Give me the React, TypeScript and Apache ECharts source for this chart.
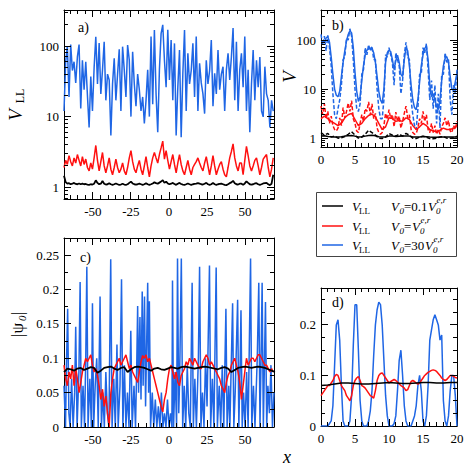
import React, { useEffect, useRef } from 'react';
import * as echarts from 'echarts';

const SERIF = '"Liberation Serif", "Times New Roman", serif';
const BLUE = '#1f66e5';
const RED = '#ff1010';
const BLACK = '#000000';

// ---------- Panel a: V_LL vs x (log y), sampled from x = -69 every 1.1 ----------
const A_X0 = -69;
const A_DX = 1.1;
const aBlue = [
  12, 60, 100, 19, 105, 45, 60, 30, 70, 105,
  13, 63, 24, 60, 20, 7, 37, 12, 50, 135,
  29, 110, 21, 46, 115, 17, 40, 33, 5.4, 29,
  67, 17, 40, 90, 12, 98, 46, 19, 103, 63,
  10, 83, 29, 14, 40, 24, 12, 19, 8, 17,
  46, 10, 136, 15, 169, 21, 6, 46, 150, 200,
  63, 26, 170, 33, 122, 17, 109, 5.4, 26, 88,
  5.1, 41, 169, 12, 79, 29, 45, 109, 19, 136,
  12, 57, 30, 21, 11, 63, 29, 45, 122, 14,
  41, 21, 88, 24, 40, 51, 12, 46, 79, 33,
  70, 180, 17, 115, 12, 46, 79, 26, 136, 12,
  46, 6, 29, 88, 17, 63, 26, 70, 12, 9.9,
  51, 21, 17, 7, 17, 12,
];
const aRed = [
  1.9, 2.4, 2.1, 2.8, 2.3, 2.0, 2.6, 2.2, 2.9, 2.4,
  2.0, 2.7, 2.1, 2.5, 1.9, 1.7, 2.2, 1.8, 2.6, 3.9,
  2.4, 1.7, 2.3, 3.1, 2.0, 1.6, 2.0, 2.6, 1.8, 1.5,
  1.9, 2.5, 1.9, 1.6, 1.8, 2.2, 1.7, 1.5, 1.9, 2.6,
  3.3, 2.3, 1.8, 1.6, 2.0, 2.4, 1.8, 1.5, 2.0, 2.7,
  1.9, 1.4, 2.0, 2.6, 3.1, 2.6, 2.2, 2.9, 3.6, 4.5,
  2.5, 3.3, 2.4, 1.8, 2.3, 2.9, 2.1, 1.6, 2.2, 2.9,
  2.1, 1.7, 1.5, 1.9, 2.4, 1.8, 1.5, 1.9, 2.1, 2.3,
  2.6, 2.2, 1.9, 1.7, 2.2, 2.7, 2.0, 1.5, 2.0, 2.8,
  2.0, 1.5, 1.8, 2.1, 2.3, 1.8, 1.5, 1.4, 1.9, 2.6,
  3.2, 4.1, 2.6, 2.0, 1.7, 2.2, 2.2, 1.5, 2.4, 3.8,
  2.8, 2.0, 1.7, 2.0, 2.4, 2.6, 2.0, 1.5, 1.9, 2.5,
  2.7, 2.9, 1.9, 1.4, 1.8, 2.6,
];
const aBlack = [
  1.45, 1.18, 1.12, 1.14, 1.1, 1.12, 1.15, 1.11, 1.1, 1.13,
  1.1, 1.12, 1.1, 1.11, 1.09, 1.08, 1.1, 1.09, 1.12, 1.25,
  1.15, 1.1, 1.12, 1.22, 1.12, 1.09, 1.1, 1.14, 1.1, 1.08,
  1.1, 1.13, 1.1, 1.08, 1.09, 1.12, 1.09, 1.08, 1.1, 1.15,
  1.2, 1.13, 1.1, 1.09, 1.1, 1.12, 1.1, 1.08, 1.1, 1.14,
  1.1, 1.08, 1.1, 1.13, 1.17, 1.14, 1.12, 1.16, 1.2, 1.26,
  1.15, 1.2, 1.13, 1.1, 1.12, 1.15, 1.11, 1.08, 1.12, 1.15,
  1.11, 1.09, 1.08, 1.1, 1.13, 1.1, 1.08, 1.1, 1.11, 1.12,
  1.14, 1.12, 1.1, 1.09, 1.12, 1.15, 1.1, 1.08, 1.1, 1.15,
  1.1, 1.08, 1.1, 1.11, 1.12, 1.1, 1.08, 1.07, 1.1, 1.14,
  1.17, 1.23, 1.14, 1.1, 1.09, 1.12, 1.12, 1.08, 1.13, 1.21,
  1.15, 1.1, 1.09, 1.1, 1.13, 1.14, 1.1, 1.08, 1.1, 1.13,
  1.14, 1.15, 1.1, 1.07, 1.12, 1.5,
];

// ---------- Panel b: V vs x in [0, 20] (log y) ----------
const B_X0 = 0;
const B_FINE = 0.25;
const B_COARSE = 0.5;
const bBlueSolid = [
  100, 95, 90, 110, 117, 90, 45, 20, 10, 7.5, 7, 9, 18, 35, 60, 95,
  130, 155, 140, 70, 22, 9, 5.6, 7, 15, 30, 50, 62, 66, 68, 66, 55,
  35, 18, 9, 6, 5.1, 10, 35, 55, 62, 58, 40, 25, 38, 49, 35, 20,
  18, 40, 70, 60, 30, 12, 6, 4.2, 3.8, 6, 14, 30, 50, 68, 73, 40,
  12, 7, 8, 6, 4.5, 3.8, 6, 15, 30, 42, 46, 35, 18, 10, 9.6, 14,
  21,
];
const bBlueDashed = [
  130, 80, 120, 60, 125, 70, 30, 8, 3, 2.5, 4, 6, 12, 40, 45, 110,
  100, 170, 120, 40, 10, 4, 3.5, 5, 20, 25, 70, 50, 80, 60, 75, 40,
  40, 10, 4, 2.5, 2.5, 6, 50, 45, 70, 50, 35, 12, 55, 40, 30, 8,
  15, 50, 90, 45, 40, 6, 3, 1.8, 1.5, 4, 20, 20, 70, 55, 85, 25,
  6, 15, 4, 12, 2, 8, 1.6, 20, 20, 55, 35, 40, 6, 3, 12, 8,
  25,
];
const bRedSolid = [
  2.5, 2.8, 2.5, 2.2, 2.0, 1.8, 2.0, 2.6, 3.0, 3.2,
  2.4, 1.8, 2.0, 2.5, 2.9, 3.1, 2.7, 2.0, 1.5, 1.7,
  2.6, 2.5, 2.2, 2.3, 2.2, 2.6, 2.4, 1.8, 1.5, 1.7,
  2.0, 1.8, 1.5, 1.4, 1.35, 1.45, 1.6, 1.5, 1.5, 1.6,
  1.8,
];
const bRedDashed = [
  4.5, 3, 5, 2.5, 3.5, 2, 2.8, 1.8, 1.5, 1.4, 1.6, 2.6, 1.8, 4.2, 2.6, 3.5,
  5.2, 3.5, 5.8, 2.5, 2, 1.4, 1.3, 2, 3, 2.2, 4, 3.5, 5.5, 3, 5, 2.5,
  3.2, 1.6, 1.3, 1.2, 1.3, 1.8, 3.2, 2.4, 3.8, 2.5, 3, 1.7, 3.4, 2.2, 2.8, 1.6,
  2.2, 3.2, 4.5, 2.6, 3, 1.5, 1.3, 1.2, 1.25, 1.6, 2.5, 2, 3.5, 2.2, 3, 1.5,
  1.3, 2, 1.3, 1.8, 1.2, 1.5, 1.2, 1.7, 2, 2.6, 1.8, 2.3, 1.4, 1.3, 1.8, 1.5,
  2.2,
];
const bBlackSolid = [
  1.1, 1.12, 1.08, 1.07, 1.06, 1.05, 1.07, 1.1, 1.12, 1.13,
  1.1, 1.06, 1.07, 1.1, 1.13, 1.14, 1.12, 1.07, 1.05, 1.06,
  1.1, 1.1, 1.08, 1.09, 1.1, 1.11, 1.1, 1.06, 1.05, 1.06,
  1.08, 1.07, 1.05, 1.04, 1.04, 1.05, 1.06, 1.05, 1.05, 1.05,
  1.06,
];
const bBlackDashed = [
  1.3, 1.15, 1.25, 1.05, 1.1, 1.0, 1.02, 1.08, 1.2, 1.35,
  1.15, 1.0, 1.05, 1.2, 1.45, 1.3, 1.15, 1.0, 0.98, 1.05,
  1.25, 1.15, 1.1, 1.2, 1.1, 1.25, 1.15, 1.0, 0.98, 1.05,
  1.1, 1.05, 0.98, 0.97, 1.0, 1.05, 1.08, 1.0, 1.0, 1.02,
  1.1,
];

// ---------- Panel c: |psi_0| vs x ----------
const cBluePoints: [number, number][] = [
  [-69, 0.06], [-68, 0.0], [-67.4, 0.09], [-66.6, 0.172], [-65.8, 0.02], [-65, 0.0], [-64, 0.07], [-63, 0.0],
  [-62, 0.05], [-61.3, 0.146], [-60.4, 0.0], [-59.2, 0.08], [-58.4, 0.211], [-57.6, 0.0], [-56.5, 0.06],
  [-55.5, 0.0], [-54.7, 0.1], [-54, 0.233], [-53.2, 0.0], [-52, 0.07], [-51, 0.0], [-50.3, 0.18], [-49.5, 0.0],
  [-48.5, 0.06], [-47.5, 0.1], [-46.5, 0.0], [-45.3, 0.19], [-44.4, 0.0], [-43.5, 0.05], [-42.5, 0.0],
  [-41.5, 0.08], [-40.5, 0.02], [-39.5, 0.0], [-38.3, 0.244], [-37.4, 0.0], [-36.3, 0.07], [-35.3, 0.0],
  [-34.2, 0.12], [-33.4, 0.0], [-32.2, 0.06], [-31.2, 0.215], [-30.3, 0.0], [-29.3, 0.09], [-28.3, 0.0],
  [-27.3, 0.05], [-26.3, 0.0], [-25.1, 0.14], [-24.2, 0.0], [-23, 0.06], [-22, 0.0], [-21.2, 0.09],
  [-20.6, 0.176], [-20, 0.05], [-19.1, 0.16], [-18.4, 0.04], [-17.6, 0.197], [-17, 0.06], [-16.1, 0.19],
  [-15.4, 0.03], [-14, 0.21], [-13.4, 0.05], [-12.9, 0.183], [-12.1, 0.0], [-11, 0.05], [-10, 0.0],
  [-9, 0.04], [-8, 0.0], [-7, 0.03], [-6, 0.0], [-5, 0.05], [-4, 0.0], [-3, 0.02], [-2, 0.0], [-1, 0.04],
  [0, 0.0], [1, 0.02], [1.9, 0.0], [2.3, 0.213], [3.0, 0.0], [4, 0.08], [5.0, 0.0], [5.6, 0.245], [6.4, 0.02],
  [7, 0.07], [8.1, 0.245], [9, 0.0], [10, 0.06], [11, 0.0], [12, 0.09], [13, 0.02], [14, 0.0], [15.2, 0.21],
  [16, 0.0], [17, 0.07], [18, 0.0], [19.3, 0.1], [20.1, 0.233], [21, 0.0], [22, 0.05], [23, 0.0], [24, 0.1],
  [25, 0.03], [26.6, 0.235], [27.4, 0.0], [28.5, 0.07], [29.5, 0.0], [31, 0.232], [31.8, 0.0], [33, 0.06],
  [34, 0.0], [35, 0.09], [36, 0.0], [37.4, 0.172], [38.2, 0.0], [39.3, 0.06], [40, 0.0], [41.8, 0.18],
  [42.6, 0.0], [43.5, 0.05], [45.1, 0.185], [45.9, 0.0], [46.8, 0.1], [47.3, 0.17], [48.1, 0.0], [49, 0.05],
  [50, 0.0], [51, 0.08], [52, 0.0], [53.6, 0.245], [54.4, 0.0], [55.5, 0.06], [56.5, 0.0], [58, 0.1],
  [59, 0.21], [59.8, 0.0], [60.5, 0.1], [61.2, 0.21], [62, 0.0], [63.4, 0.182], [64.2, 0.0], [65, 0.06],
  [66, 0.02], [67, 0.09], [68, 0.0], [69, 0.05],
];
const C_X0 = -69;
const C_DX = 1.1;
const cRed = [
  0.09, 0.07, 0.06, 0.08, 0.07, 0.09, 0.06, 0.085, 0.07, 0.05,
  0.065, 0.08, 0.09, 0.1, 0.095, 0.1, 0.105, 0.09, 0.08, 0.085,
  0.075, 0.06, 0.04, 0.055, 0.03, 0.045, 0.02, 0.0, 0.05, 0.07,
  0.085, 0.09, 0.095, 0.1, 0.09, 0.095, 0.1, 0.105, 0.095, 0.085,
  0.09, 0.08, 0.075, 0.07, 0.065, 0.08, 0.095, 0.104, 0.1, 0.105,
  0.095, 0.1, 0.09, 0.08, 0.07, 0.06, 0.05, 0.04, 0.03, 0.022,
  0.04, 0.05, 0.07, 0.085, 0.09, 0.08, 0.07, 0.08, 0.065, 0.06,
  0.075, 0.08, 0.085, 0.095, 0.09, 0.1, 0.095, 0.09, 0.1, 0.095,
  0.09, 0.085, 0.085, 0.095, 0.1, 0.105, 0.1, 0.09, 0.095, 0.09,
  0.085, 0.08, 0.075, 0.07, 0.06, 0.055, 0.05, 0.065, 0.075, 0.08,
  0.09, 0.095, 0.1, 0.09, 0.08, 0.065, 0.04, 0.06, 0.08, 0.1,
  0.09, 0.095, 0.1, 0.1, 0.095, 0.1, 0.105, 0.105, 0.1, 0.095,
  0.09, 0.09, 0.085, 0.08, 0.085, 0.08,
];
const C_BLACK_DX = 2.2;
const cBlack = [
  0.08, 0.085, 0.084, 0.082, 0.085, 0.086, 0.083, 0.085, 0.087, 0.086,
  0.079, 0.082, 0.086, 0.087, 0.088, 0.085, 0.083, 0.086, 0.087, 0.08,
  0.084, 0.087, 0.088, 0.087, 0.086, 0.084, 0.082, 0.085, 0.086, 0.084,
  0.083, 0.085, 0.087, 0.086, 0.085, 0.087, 0.088, 0.087, 0.086, 0.085,
  0.086, 0.087, 0.088, 0.087, 0.086, 0.085, 0.084, 0.086, 0.087, 0.085,
  0.08, 0.083, 0.086, 0.087, 0.088, 0.087, 0.086, 0.087, 0.088, 0.087,
  0.086, 0.084, 0.082, 0.08,
];

// ---------- Panel d: |psi_0| vs x in [0, 20] ----------
const D_X0 = 0;
const D_DX = 0.25;
const dBlue = [
  0, 0, 0, 0, 0, 0.005, 0.01, 0.04, 0.12, 0.2, 0.21, 0.17, 0.08, 0.01, 0,
  0, 0, 0.01, 0.06, 0.16, 0.24, 0.24, 0.15, 0.05, 0.01,
  0, 0, 0, 0.01, 0.03, 0.07, 0.14, 0.2, 0.23, 0.245,
  0.24, 0.2, 0.13, 0.06, 0.02, 0, 0, 0, 0.005, 0.02,
  0.07, 0.13, 0.15, 0.1, 0.04, 0.01, 0, 0, 0, 0.01,
  0.02, 0.04, 0.08, 0.1, 0.07, 0.01, 0, 0.02, 0.08, 0.17,
  0.19, 0.21, 0.22, 0.21, 0.2, 0.17, 0.18, 0.05, 0.01, 0.0,
  0.02, 0.07, 0.1, 0.1, 0.06, 0.0,
];
const dRed = [
  0.06, 0.065, 0.07, 0.075, 0.08, 0.08, 0.085, 0.09, 0.098, 0.102, 0.1, 0.09,
  0.08, 0.075, 0.07, 0.06, 0.055, 0.05, 0.06, 0.08, 0.09, 0.095, 0.098, 0.09,
  0.08, 0.078, 0.075, 0.07, 0.065, 0.06, 0.058, 0.055, 0.07, 0.09, 0.1, 0.104,
  0.105, 0.1, 0.095, 0.09, 0.085, 0.088, 0.09, 0.092, 0.09, 0.087, 0.083, 0.08,
  0.078, 0.075, 0.07, 0.072, 0.08, 0.088, 0.09, 0.088, 0.085, 0.083, 0.085, 0.09,
  0.095, 0.1, 0.103, 0.106, 0.108, 0.11, 0.111, 0.11, 0.108, 0.104, 0.1, 0.095,
  0.092, 0.09, 0.092, 0.096, 0.1, 0.1, 0.098, 0.096, 0.095,
];
const D_BLACK_DX = 1;
const dBlack = [
  0.08, 0.081, 0.083, 0.085, 0.085, 0.084, 0.083, 0.083, 0.084, 0.085, 0.086,
  0.085, 0.084, 0.084, 0.085, 0.086, 0.086, 0.085, 0.085, 0.086, 0.086,
];

// ---------- tick values ----------
const wideXMajor = [-50, -25, 0, 25, 50];
const narrowXMajor = [0, 5, 10, 15, 20];
const logMajor = [1, 10, 100];
const cYMajor = [0, 0.05, 0.1, 0.15, 0.2, 0.25];
const cYMinor = [0.025, 0.075, 0.125, 0.175, 0.225];
const dYMajor = [0, 0.1, 0.2];
const dYMinor = [0.025, 0.05, 0.075, 0.125, 0.15, 0.175, 0.225, 0.25];

const minorsBetween = (from: number, to: number, step: number, majors: number[]) => {
  const out: number[] = [];
  for (let v = from; v <= to + 1e-9; v += step) {
    const r = Math.round(v * 1000) / 1000;
    if (!majors.includes(r)) out.push(r);
  }
  return out;
};
const logMinors = (min: number, max: number) => {
  const out: number[] = [];
  for (let e = -1; e <= 2; e++) {
    for (let m = 2; m <= 9; m++) {
      const v = Math.round(m * Math.pow(10, e) * 1000) / 1000;
      if (v > min && v < max) out.push(v);
    }
  }
  return out;
};

const toPairs = (x0: number, dx: number, ys: number[]) =>
  ys.map((y, i) => [Math.round((x0 + i * dx) * 1000) / 1000, y]);

const boxLine = { color: '#000', width: 1 };
const labelStyle = { color: '#000', fontFamily: SERIF, fontSize: 13 };

function valAxes(dim: 'x' | 'y', grid: number, min: number, max: number, labels: number[]) {
  const pos = dim === 'x' ? ['bottom', 'top'] : ['left', 'right'];
  return pos.map((p, k) => ({
    type: 'value', gridIndex: grid, position: p, min, max,
    axisLine: { show: true, onZero: false, lineStyle: boxLine },
    axisTick: { show: false },
    minorTick: { show: false },
    axisLabel: k === 0
      ? { show: true, customValues: labels, margin: dim === 'x' ? 6 : 5, ...labelStyle }
      : { show: false },
    splitLine: { show: false },
  }));
}

function logAxes(grid: number, min: number, max: number) {
  return ['left', 'right'].map((p, k) => ({
    type: 'log', logBase: 10, gridIndex: grid, position: p, min, max,
    axisLine: { show: true, onZero: false, lineStyle: boxLine },
    axisTick: { show: false },
    minorTick: { show: false },
    axisLabel: k === 0
      ? { show: true, showMinLabel: false, showMaxLabel: false, margin: 5, ...labelStyle }
      : { show: false },
    splitLine: { show: false },
    minorSplitLine: { show: false },
  }));
}

const lineSeries = (data: any[], color: string, xi: number, yi: number, dashed = false, width = 1.5) => ({
  type: 'line', data, xAxisIndex: xi, yAxisIndex: yi,
  showSymbol: false, symbol: 'none', silent: true, clip: true,
  lineStyle: { color, width, type: dashed ? [4, 2] : 'solid' },
  itemStyle: { color },
});

const txt = (x: number, y: number, text: string, font: string, align = 'left', extra: any = {}) => ({
  type: 'text', x, y, silent: true,
  style: {
    text, font, fill: '#000',
    textAlign: align, textVerticalAlign: 'middle', align, verticalAlign: 'middle',
    ...extra,
  },
});

const F_MAIN = `13px ${SERIF}`;
const F_ITAL = `italic 13px ${SERIF}`;
const F_SUB = `9px ${SERIF}`;
const F_SUBI = `italic 9px ${SERIF}`;

function legendRow(y: number, color: string, mid: string, vx: number) {
  return [
    { type: 'line', silent: true, shape: { x1: 322, y1: y, x2: 343, y2: y }, style: { stroke: color, lineWidth: 1.5 } },
    txt(352, y, 'V', F_ITAL),
    txt(359, y + 5, 'LL', F_SUB),
    txt(391, y, 'V', F_ITAL),
    txt(399.5, y + 5, '0', F_SUBI),
    txt(404, y, mid, F_MAIN),
    txt(vx, y, 'V', F_ITAL),
    txt(vx + 8, y + 5, '0', F_SUBI),
    txt(vx + 8.5, y - 6, 'e,r', F_SUBI),
  ];
}

const GRIDS = [
  { left: 64, top: 10, width: 210, height: 189 },
  { left: 321, top: 10, width: 136, height: 137 },
  { left: 64, top: 238, width: 210, height: 189 },
  { left: 321, top: 288, width: 136, height: 138 },
];

export default function App() {
  const ref = useRef<HTMLDivElement>(null);
  useEffect(() => {
    const chart = echarts.init(ref.current!, null, { renderer: 'svg' });
    const wideMinor = minorsBetween(-65, 65, 5, wideXMajor);
    const narrowMinor = minorsBetween(1, 19, 1, narrowXMajor);

    const A_X: [number, number] = [-69, 69];
    const A_Y: [number, number] = [0.68, 324];
    const B_X: [number, number] = [0, 20];
    const B_Y: [number, number] = [0.66, 410];
    const C_Y: [number, number] = [0, 0.275];
    const D_Y: [number, number] = [0, 0.273];

    const xAxis = [
      ...valAxes('x', 0, A_X[0], A_X[1], wideXMajor), // 0
      ...valAxes('x', 1, B_X[0], B_X[1], narrowXMajor), // 2
      ...valAxes('x', 2, A_X[0], A_X[1], wideXMajor), // 4
      ...valAxes('x', 3, B_X[0], B_X[1], narrowXMajor), // 6
    ];
    const yAxis = [
      ...logAxes(0, A_Y[0], A_Y[1]), // 0
      ...logAxes(1, B_Y[0], B_Y[1]), // 2
      ...valAxes('y', 2, C_Y[0], C_Y[1], cYMajor), // 4
      ...valAxes('y', 3, D_Y[0], D_Y[1], dYMajor), // 6
    ];

    const series: any[] = [
      lineSeries(toPairs(A_X0, A_DX, aBlue), BLUE, 0, 0),
      lineSeries(toPairs(A_X0, A_DX, aRed), RED, 0, 0),
      lineSeries(toPairs(A_X0, A_DX, aBlack), BLACK, 0, 0, false, 1.8),

      lineSeries(toPairs(B_X0, B_FINE, bBlueDashed), BLUE, 2, 2, true),
      lineSeries(toPairs(B_X0, B_FINE, bBlueSolid), BLUE, 2, 2),
      lineSeries(toPairs(B_X0, B_FINE, bRedDashed), RED, 2, 2, true),
      lineSeries(toPairs(B_X0, B_COARSE, bRedSolid), RED, 2, 2),
      lineSeries(toPairs(B_X0, B_COARSE, bBlackDashed), BLACK, 2, 2, true),
      lineSeries(toPairs(B_X0, B_COARSE, bBlackSolid), BLACK, 2, 2),

      lineSeries(cBluePoints, BLUE, 4, 4),
      lineSeries(toPairs(C_X0, C_DX, cRed), RED, 4, 4),
      lineSeries(toPairs(C_X0, C_BLACK_DX, cBlack), BLACK, 4, 4, false, 1.8),

      lineSeries(toPairs(D_X0, D_DX, dBlue), BLUE, 6, 6),
      lineSeries(toPairs(D_X0, D_DX, dRed), RED, 6, 6),
      lineSeries(toPairs(D_X0, D_BLACK_DX, dBlack), BLACK, 6, 6),
    ];

    const graphic: any[] = [
      txt(78, 27, 'a)', `14px ${SERIF}`),
      txt(332, 25, 'b)', `14px ${SERIF}`),
      txt(80, 257, 'c)', `14px ${SERIF}`),
      txt(332, 302, 'd)', `14px ${SERIF}`),
      {
        type: 'group', x: 15, y: 105, rotation: Math.PI / 2, silent: true,
        children: [
          txt(-10, 0, 'V', `italic 19px ${SERIF}`, 'center'),
          txt(9, 5, 'LL', `12px ${SERIF}`, 'center'),
        ],
      },
      {
        type: 'group', x: 17, y: 322, rotation: Math.PI / 2, silent: true,
        children: [
          txt(-15, 0, '|ψ', `17px ${SERIF}`),
          txt(1, 5, '0', `italic 11px ${SERIF}`),
          txt(7, 0, '|', `17px ${SERIF}`),
        ],
      },
      {
        type: 'group', x: 289, y: 77, rotation: Math.PI / 2, silent: true,
        children: [txt(0, 0, 'V', `italic 19px ${SERIF}`, 'center')],
      },
      txt(287, 457, 'x', `italic 18px ${SERIF}`, 'center'),
      {
        type: 'rect', silent: true,
        shape: { x: 316.5, y: 192.5, width: 140, height: 64 },
        style: { fill: '#fff', stroke: '#444', lineWidth: 1 },
      },
      ...legendRow(206, BLACK, '=0.1', 428),
      ...legendRow(226, RED, '=', 412),
      ...legendRow(245, BLUE, '=30', 425),
    ];

    chart.setOption({
      animation: false,
      backgroundColor: '#fff',
      grid: GRIDS,
      xAxis,
      yAxis,
      series,
      graphic,
    });

    // Inward tick marks on all four sides, positioned through the axes' own scales.
    const MAJ = 7;
    const MIN = 4;
    const tickEls: any[] = [];
    const st = { stroke: '#000', lineWidth: 1 };
    const addX = (xi: number, gi: number, values: number[], len: number) => {
      const g = GRIDS[gi];
      values.forEach((v) => {
        const px = chart.convertToPixel({ xAxisIndex: xi } as any, v) as any;
        if (typeof px !== 'number' || !isFinite(px)) return;
        const x = Math.round(px - 0.5) + 0.5;
        const yb = g.top + g.height;
        tickEls.push({ type: 'line', silent: true, z: 50, shape: { x1: x, y1: yb, x2: x, y2: yb - len }, style: { ...st } });
        tickEls.push({ type: 'line', silent: true, z: 50, shape: { x1: x, y1: g.top, x2: x, y2: g.top + len }, style: { ...st } });
      });
    };
    const addY = (yi: number, gi: number, values: number[], len: number) => {
      const g = GRIDS[gi];
      values.forEach((v) => {
        const py = chart.convertToPixel({ yAxisIndex: yi } as any, v) as any;
        if (typeof py !== 'number' || !isFinite(py)) return;
        const y = Math.round(py - 0.5) + 0.5;
        const xr = g.left + g.width;
        tickEls.push({ type: 'line', silent: true, z: 50, shape: { x1: g.left, y1: y, x2: g.left + len, y2: y }, style: { ...st } });
        tickEls.push({ type: 'line', silent: true, z: 50, shape: { x1: xr, y1: y, x2: xr - len, y2: y }, style: { ...st } });
      });
    };
    addX(0, 0, wideXMajor, MAJ);
    addX(0, 0, wideMinor, MIN);
    addY(0, 0, logMajor, MAJ);
    addY(0, 0, logMinors(A_Y[0], A_Y[1]), MIN);
    addX(2, 1, narrowXMajor.slice(1, -1), MAJ);
    addX(2, 1, narrowMinor, MIN);
    addY(2, 1, logMajor, MAJ);
    addY(2, 1, logMinors(B_Y[0], B_Y[1]), MIN);
    addX(4, 2, wideXMajor, MAJ);
    addX(4, 2, wideMinor, MIN);
    addY(4, 2, cYMajor.slice(1), MAJ);
    addY(4, 2, cYMinor, MIN);
    addX(6, 3, narrowXMajor.slice(1, -1), MAJ);
    addX(6, 3, narrowMinor, MIN);
    addY(6, 3, dYMajor.slice(1), MAJ);
    addY(6, 3, dYMinor, MIN);

    chart.setOption({ graphic: [...graphic, ...tickEls] });
    return () => chart.dispose();
  }, []);
  return (
    <div
      ref={ref}
      style={{ position: 'absolute', left: 0, top: 0, width: 474, height: 470, background: '#fff' }}
    />
  );
}
